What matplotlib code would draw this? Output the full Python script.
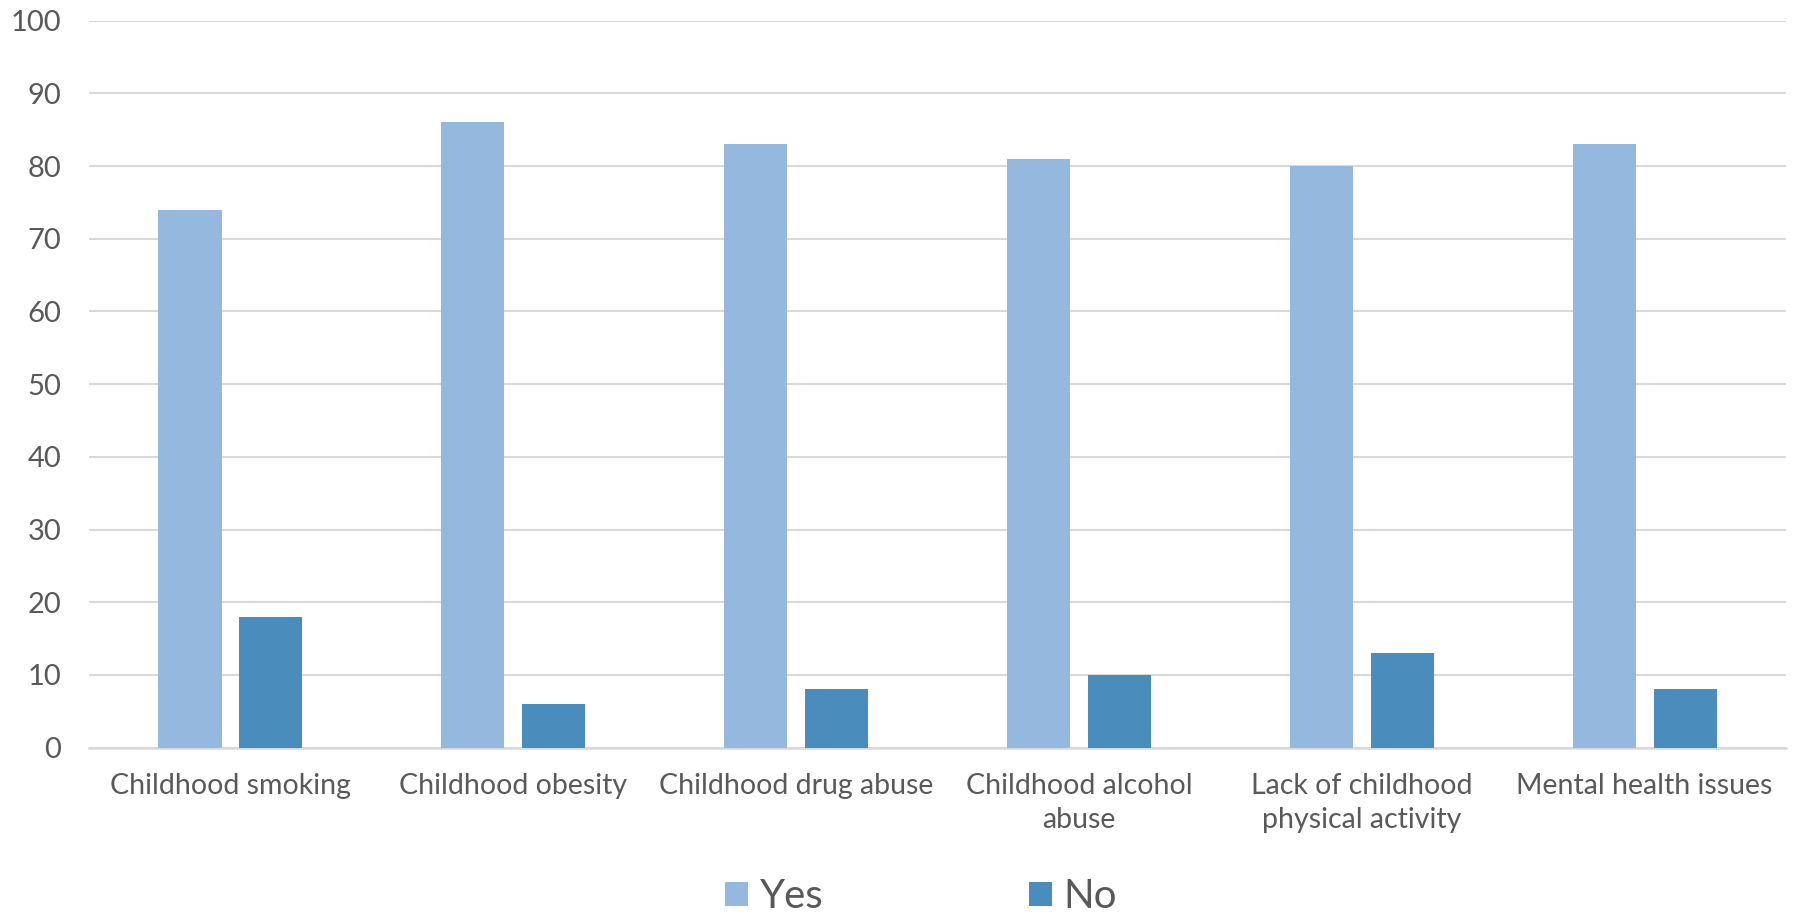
import numpy as np
import matplotlib.pyplot as plt

CATEGORIES = ['Childhood smoking', 'Childhood obesity', 'Childhood drug abuse',
              'Childhood alcohol\nabuse', 'Lack of childhood\nphysical activity',
              'Mental health issues']
YES = [74, 86, 83, 81, 80, 83]
NO = [18, 6, 8, 10, 13, 8]
Y_TICKS = [0, 10, 20, 30, 40, 50, 60, 70, 80, 90, 100]

YES_COLOR = '#95B9DE'
NO_COLOR = '#4A8CBB'
TEXT_COLOR = '#595959'
GRID_COLOR = '#D9D9D9'

plt.rcParams['font.family'] = ['Lato', 'DejaVu Sans']

fig = plt.figure(figsize=(17.95, 9.16), dpi=100)
ax = fig.add_axes([0.0496, 0.1838, 0.9454, 0.7937])

x = np.arange(len(CATEGORIES))
bar_w = 0.223
offset = 0.143
ax.bar(x - offset, YES, bar_w, color=YES_COLOR, label='Yes', zorder=3)
ax.bar(x + offset, NO, bar_w, color=NO_COLOR, label='No', zorder=3)

ax.set_xlim(-0.5, len(CATEGORIES) - 0.5)
ax.set_ylim(0, 100)
ax.set_yticks(Y_TICKS)
ax.set_xticks(x)
ax.set_xticklabels(CATEGORIES, fontsize=20.5, color=TEXT_COLOR, linespacing=1.4)
ax.tick_params(axis='y', labelsize=21, labelcolor=TEXT_COLOR, length=0, pad=20)
ax.tick_params(axis='x', length=0, pad=18)

ax.yaxis.grid(True, color=GRID_COLOR, linewidth=1.5, zorder=0)
for side in ['top', 'right', 'left']:
    ax.spines[side].set_visible(False)
ax.spines['bottom'].set_color(GRID_COLOR)
ax.spines['bottom'].set_linewidth(1.8)

fig.legend(loc='center', bbox_to_anchor=(0.513, 0.021), ncol=2, frameon=False,
           fontsize=29, labelcolor=TEXT_COLOR, handlelength=0.57, handleheight=0.57,
           handletextpad=0.28, columnspacing=5.1)

fig.savefig('out.png', dpi=100)
